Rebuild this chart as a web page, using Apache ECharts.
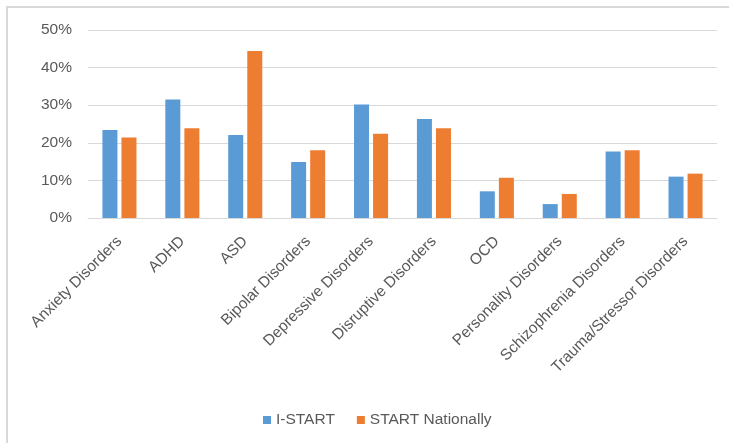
<!DOCTYPE html>
<html>
<head>
<meta charset="utf-8">
<script src="https://cdn.jsdelivr.net/npm/echarts@6/dist/echarts.min.js"></script>
<style>
  html, body { margin: 0; padding: 0; background: #ffffff; }
  #chart { width: 729px; height: 443px; }
</style>
</head>
<body>
<div id="chart"></div>
<script>
// Diagnosis categories shown along the x axis
const categories = [
  'Anxiety Disorders', 'ADHD', 'ASD', 'Bipolar Disorders', 'Depressive Disorders',
  'Disruptive Disorders', 'OCD', 'Personality Disorders', 'Schizophrenia Disorders',
  'Trauma/Stressor Disorders'
];

// Share of cases per diagnosis (percent)
const iStart = [23.4, 31.5, 22.1, 14.9, 30.2, 26.3, 7.1, 3.7, 17.7, 11.0];
const startNationally = [21.4, 23.9, 44.4, 18.0, 22.4, 23.9, 10.7, 6.4, 18.0, 11.8];

const seriesNames = ['I-START', 'START Nationally'];
const yTicks = { min: 0, max: 50, interval: 10 };

const fontFamily = '"Liberation Sans", Arial, sans-serif';
const fontSize = 15.5;
const textColor = '#595959';
const gridColor = '#d9d9d9';

const chart = echarts.init(document.getElementById('chart'));

chart.setOption({
  animation: false,
  backgroundColor: '#ffffff',
  graphic: [{
    type: 'rect',
    shape: { x: 7, y: 7, width: 740, height: 460 },
    style: { fill: 'none', stroke: gridColor, lineWidth: 2 },
    silent: true,
    z: -1
  }],
  grid: { left: 88, right: 12, top: 30, bottom: 225 },
  legend: {
    data: seriesNames,
    left: 263,
    top: 412,
    padding: 0,
    icon: 'rect',
    itemWidth: 8,
    itemHeight: 8,
    itemGap: 22,
    textStyle: { fontFamily, fontSize, color: textColor }
  },
  xAxis: {
    type: 'category',
    data: categories,
    axisLine: { lineStyle: { color: gridColor, width: 1 } },
    axisTick: { show: false },
    axisLabel: {
      interval: 0,
      rotate: 45,
      margin: 21,
      fontFamily,
      fontSize,
      color: textColor
    }
  },
  yAxis: {
    type: 'value',
    min: yTicks.min,
    max: yTicks.max,
    interval: yTicks.interval,
    axisLine: { show: false },
    axisTick: { show: false },
    splitLine: { lineStyle: { color: gridColor, width: 1 } },
    axisLabel: {
      margin: 16,
      fontFamily,
      fontSize,
      color: textColor,
      formatter: v => v + '%'
    }
  },
  series: [
    {
      name: seriesNames[0],
      type: 'bar',
      data: iStart,
      barWidth: 15,
      barGap: '27%',
      itemStyle: { color: '#5b9bd5' }
    },
    {
      name: seriesNames[1],
      type: 'bar',
      data: startNationally,
      barWidth: 15,
      barGap: '27%',
      itemStyle: { color: '#ed7d31' }
    }
  ]
});
</script>
</body>
</html>
